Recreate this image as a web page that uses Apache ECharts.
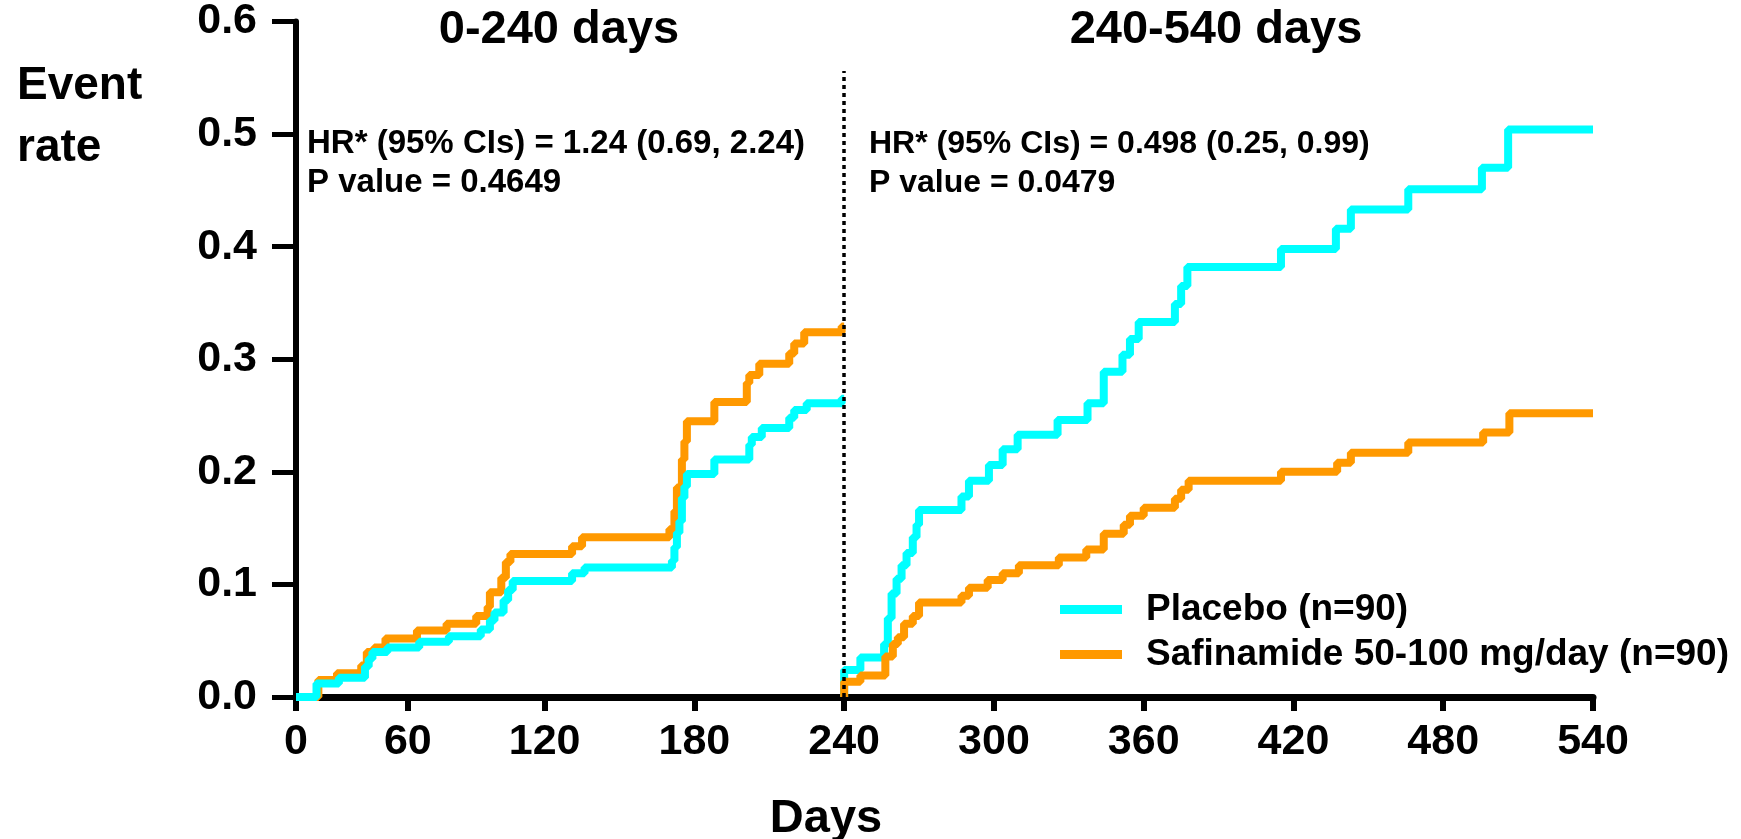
<!DOCTYPE html>
<html>
<head>
<meta charset="utf-8">
<script src="https://cdn.jsdelivr.net/npm/echarts@6/dist/echarts.min.js"></script>
<style>
  html, body { margin: 0; padding: 0; background: #fff; }
  #chart { width: 1741px; height: 839px; }
</style>
</head>
<body>
<div id="chart"></div>
<script>
// cumulative event rate, [day, rate] after each step
const placeboEarly = [[0,0],[11,0.012],[23,0.017],[37,0.027],[39,0.034],[41,0.040],[49,0.044],[65,0.049],[78,0.054],[92,0.060],[96,0.068],[98,0.075],[102,0.086],[104,0.095],[106,0.103],[131,0.110],[136,0.115],[171,0.121],[172,0.133],[173,0.146],[174,0.156],[175,0.177],[176,0.187],[177,0.198],[188,0.211],[202,0.224],[203,0.231],[207,0.239],[218,0.248],[220,0.255],[225,0.261],[239,0.265],[240,0.265]];
const safiEarly = [[0,0],[12,0.015],[22,0.021],[35,0.028],[38,0.040],[42,0.044],[48,0.052],[64,0.059],[77,0.065],[90,0.072],[95,0.080],[96,0.093],[101,0.106],[103,0.120],[105,0.127],[131,0.134],[135,0.142],[170,0.149],[172,0.165],[173,0.186],[175,0.211],[176,0.227],[177,0.245],[188,0.262],[201,0.279],[202,0.286],[206,0.296],[218,0.305],[220,0.314],[224,0.324],[239,0.329],[240,0.329]];
const placeboLate = [[240,0],[240,0.024],[246.5,0.035],[256,0.047],[257.5,0.070],[259,0.092],[261,0.105],[263,0.117],[265,0.128],[267.5,0.142],[269,0.153],[270,0.166],[287,0.178],[290,0.192],[298,0.206],[303.5,0.220],[309.5,0.233],[325.5,0.246],[337.5,0.261],[344,0.289],[351.5,0.304],[354.5,0.318],[358,0.333],[372.5,0.349],[375,0.365],[377.5,0.382],[415,0.398],[437,0.416],[443,0.433],[466,0.451],[495.5,0.470],[506,0.504],[540,0.504]];
const safiLate = [[240,0],[240,0.0135],[246.5,0.019],[256.5,0.036],[259.5,0.047],[261.5,0.053],[264,0.065],[267.5,0.072],[270,0.084],[287,0.090],[290,0.097],[297.5,0.104],[303.5,0.110],[310,0.117],[326,0.124],[337,0.131],[344,0.145],[352,0.153],[354.5,0.161],[360,0.168],[372.5,0.176],[375,0.184],[378,0.192],[415,0.200],[437.5,0.208],[443,0.217],[466,0.226],[496,0.235],[506.5,0.252],[540,0.252]];

const dayTicks = [0, 60, 120, 180, 240, 300, 360, 420, 480, 540];
const rateTicks = [0, 0.1, 0.2, 0.3, 0.4, 0.5, 0.6];
const seriesNames = ['Placebo (n=90)', 'Safinamide 50-100 mg/day (n=90)'];
const splitDay = 240;

// the original figure squeezes the first 120 days of its x axis;
// days >= 120 are linear, below that the axis is warped like this
const warpDays = [0, 60, 120];
const warpAxis = [20.4, 65.2, 120];

function dayToAxis(d) {
  if (d >= warpDays[2]) return d;
  let i = d < warpDays[1] ? 0 : 1;
  let t = (d - warpDays[i]) / (warpDays[i + 1] - warpDays[i]);
  return warpAxis[i] + t * (warpAxis[i + 1] - warpAxis[i]);
}
function axisToDay(v) {
  if (v >= warpAxis[2]) return v;
  let i = v < warpAxis[1] ? 0 : 1;
  let t = (v - warpAxis[i]) / (warpAxis[i + 1] - warpAxis[i]);
  return warpDays[i] + t * (warpDays[i + 1] - warpDays[i]);
}
const toXY = arr => arr.map(([d, r]) => [dayToAxis(d), r]);

const FONT = '"Liberation Sans", Arial, sans-serif';
const CYAN = '#00FFFF';
const ORANGE = '#FF9900';

function txt(text, x, y, size, align) {
  return {
    type: 'text', x: x, y: y, z: 10,
    style: { text: text, fill: '#000', font: 'bold ' + size + 'px ' + FONT, align: align, verticalAlign: 'middle' }
  };
}

function stepLine(name, data, color) {
  return {
    name: name,
    type: 'line',
    step: 'end',
    data: toXY(data),
    symbol: 'none',
    color: color,
    lineStyle: { color: color, width: 8 },
    clip: false
  };
}

let chart = echarts.init(document.getElementById('chart'));
let option = {
  animation: false,
  backgroundColor: '#fff',
  grid: { left: 296, right: 148, top: 21, bottom: 142 },
  legend: {
    orient: 'vertical',
    left: 1055,
    top: 582,
    data: seriesNames,
    icon: 'rect',
    itemWidth: 62,
    itemHeight: 9,
    itemGap: 0,
    textStyle: { color: '#000', fontSize: 37, fontWeight: 'bold', fontFamily: FONT, lineHeight: 45, padding: [0, 0, 0, 19] }
  },
  xAxis: {
    type: 'value',
    min: dayToAxis(dayTicks[0]),
    max: dayTicks[dayTicks.length - 1],
    splitLine: { show: false },
    axisLine: { show: true, lineStyle: { color: '#000', width: 7 } },
    axisTick: { show: true, length: 14, lineStyle: { color: '#000', width: 6 }, customValues: dayTicks.map(dayToAxis) },
    axisLabel: {
      customValues: dayTicks.map(dayToAxis),
      formatter: v => String(Math.round(axisToDay(v))),
      color: '#000', fontSize: 43, fontWeight: 'bold', fontFamily: FONT, margin: 24,
      showMinLabel: true, showMaxLabel: true
    }
  },
  yAxis: {
    type: 'value',
    min: rateTicks[0],
    max: rateTicks[rateTicks.length - 1],
    interval: 0.1,
    splitLine: { show: false },
    axisLine: { show: true, lineStyle: { color: '#000', width: 6 } },
    axisTick: { show: true, length: 24, lineStyle: { color: '#000', width: 5 } },
    axisLabel: {
      formatter: v => v.toFixed(1),
      color: '#000', fontSize: 43, fontWeight: 'bold', fontFamily: FONT, margin: 39
    }
  },
  series: [
    stepLine(seriesNames[1], safiEarly, ORANGE),
    stepLine(seriesNames[0], placeboEarly, CYAN),
    stepLine(seriesNames[0], placeboLate, CYAN),
    Object.assign(stepLine(seriesNames[1], safiLate, ORANGE), {
      markLine: {
        silent: true,
        symbol: 'none',
        label: { show: false },
        lineStyle: { color: '#000', width: 3.5, type: [4, 4] },
        data: [[{ coord: [splitDay, 0] }, { coord: [splitDay, 0.556] }]]
      }
    })
  ],
  graphic: [
    txt('Event', 17, 86, 46, 'left'),
    txt('rate', 17, 148, 46, 'left'),
    txt('0-240 days', 559, 30, 47, 'center'),
    txt('240-540 days', 1216, 30, 47, 'center'),
    txt('HR* (95% CIs) = 1.24 (0.69, 2.24)', 307, 144, 33, 'left'),
    txt('P value = 0.4649', 307, 183, 33, 'left'),
    txt('HR* (95% CIs) = 0.498 (0.25, 0.99)', 869, 144, 32, 'left'),
    txt('P value = 0.0479', 869, 183, 32, 'left'),
    txt('Days', 826, 819, 47, 'center')
  ]
};
chart.setOption(option);
</script>
</body>
</html>
